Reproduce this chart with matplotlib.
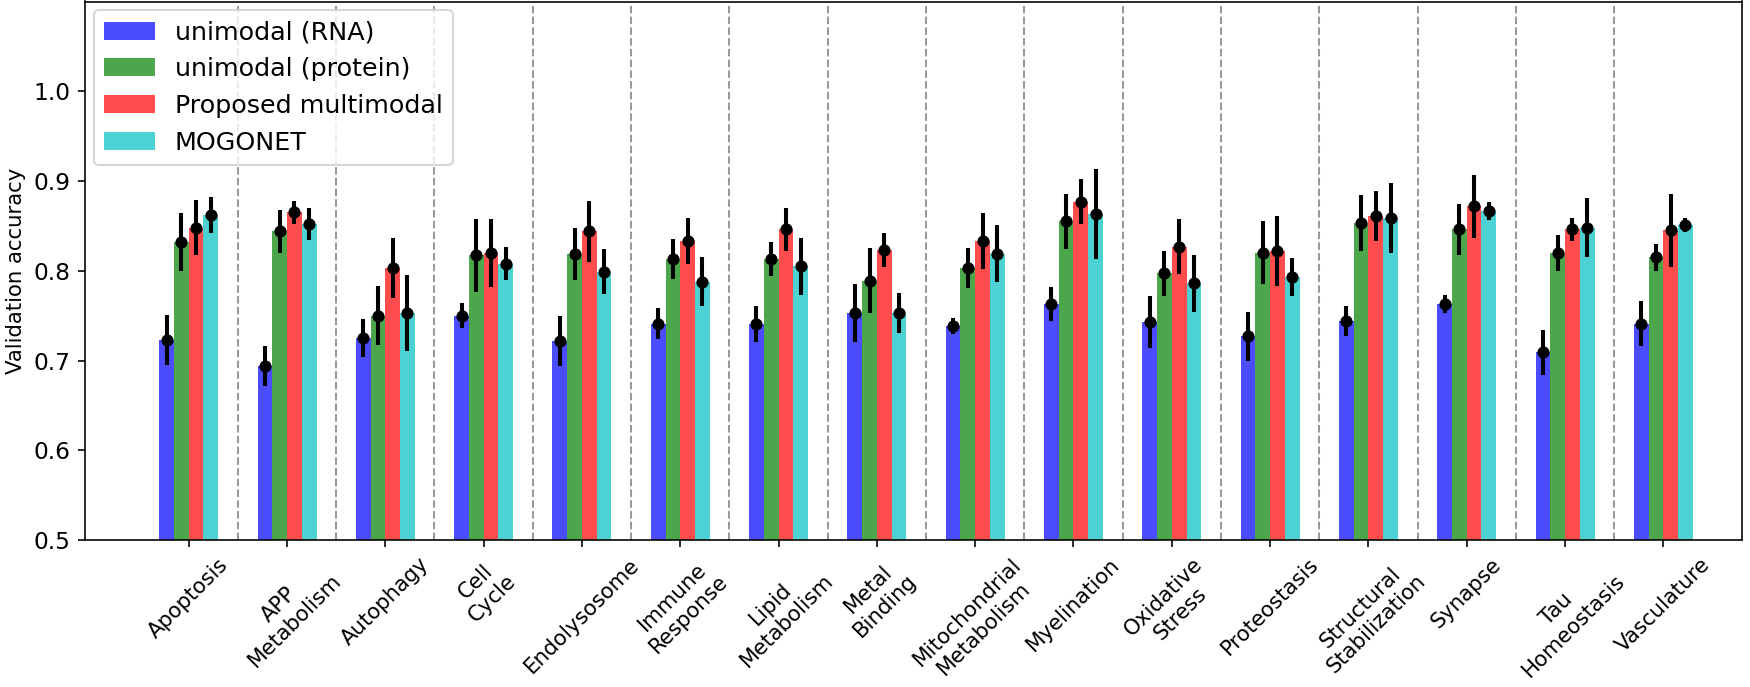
import numpy as np
import matplotlib
matplotlib.use("Agg")
import matplotlib.pyplot as plt

categories = ['Apoptosis', 'APP\nMetabolism', 'Autophagy', 'Cell\nCycle', 'Endolysosome',
              'Immune\nResponse', 'Lipid\nMetabolism', 'Metal\nBinding',
              'Mitochondrial\nMetabolism', 'Myelination', 'Oxidative\nStress', 'Proteostasis',
              'Structural\nStabilization', 'Synapse', 'Tau\nHomeostasis', 'Vasculature']

rna_mean = [0.723, 0.694, 0.725, 0.750, 0.722, 0.741, 0.741, 0.753, 0.738, 0.763, 0.743, 0.727, 0.744, 0.763, 0.709, 0.741]
rna_std = [0.028, 0.022, 0.021, 0.014, 0.028, 0.017, 0.020, 0.032, 0.009, 0.019, 0.029, 0.027, 0.017, 0.010, 0.025, 0.025]
prot_mean = [0.832, 0.844, 0.750, 0.817, 0.819, 0.813, 0.813, 0.789, 0.803, 0.855, 0.797, 0.820, 0.853, 0.846, 0.820, 0.815]
prot_std = [0.032, 0.024, 0.033, 0.041, 0.029, 0.022, 0.019, 0.036, 0.022, 0.031, 0.025, 0.035, 0.031, 0.028, 0.020, 0.015]
multi_mean = [0.848, 0.865, 0.803, 0.820, 0.844, 0.833, 0.846, 0.823, 0.833, 0.877, 0.827, 0.822, 0.861, 0.872, 0.846, 0.845]
multi_std = [0.031, 0.013, 0.033, 0.038, 0.034, 0.026, 0.024, 0.019, 0.031, 0.025, 0.031, 0.039, 0.028, 0.035, 0.013, 0.041]
mogo_mean = [0.862, 0.852, 0.753, 0.808, 0.799, 0.788, 0.805, 0.753, 0.819, 0.863, 0.786, 0.793, 0.859, 0.867, 0.848, 0.851]
mogo_std = [0.020, 0.018, 0.042, 0.018, 0.025, 0.027, 0.032, 0.022, 0.032, 0.050, 0.032, 0.021, 0.039, 0.010, 0.033, 0.008]

labels = ['unimodal (RNA)', 'unimodal (protein)', 'Proposed multimodal', 'MOGONET']
colors = ['b', 'g', 'r', 'c']
means = [rna_mean, prot_mean, multi_mean, mogo_mean]
stds = [rna_std, prot_std, multi_std, mogo_std]

dpi = 146
fig, ax = plt.subplots(figsize=(1750 / dpi, 687 / dpi), dpi=dpi)
fig.subplots_adjust(left=85 / 1750, right=1742 / 1750, bottom=1 - 540 / 687, top=1 - 1.5 / 687)

x = np.arange(len(categories))
width = 0.15

for i in range(4):
    pos = x + (i - 1.5) * width
    ax.bar(pos, means[i], width, color=colors[i], alpha=0.7, label=labels[i])
    ax.errorbar(pos, means[i], yerr=stds[i], fmt='o', color='black',
                markersize=5, elinewidth=2)

# separators between groups
for k in range(len(categories) - 1):
    ax.axvline(k + 0.5, color='gray', linestyle='--', linewidth=1, alpha=0.8)

ax.set_xlim(-1.055, 15.8)
ax.set_ylim(0.5, 1.1)
ax.set_yticks([0.5, 0.6, 0.7, 0.8, 0.9, 1.0])
ax.set_xticks(x)
ax.set_xticklabels(categories, rotation=45)
ax.tick_params(axis='x', labelsize=10.5)
ax.tick_params(axis='y', labelsize=11.5)
ax.set_ylabel('Validation accuracy', fontsize=10.5)
ax.legend(loc='upper left', fontsize=12.5, borderaxespad=0.35)

fig.savefig('out.png', dpi=dpi)
